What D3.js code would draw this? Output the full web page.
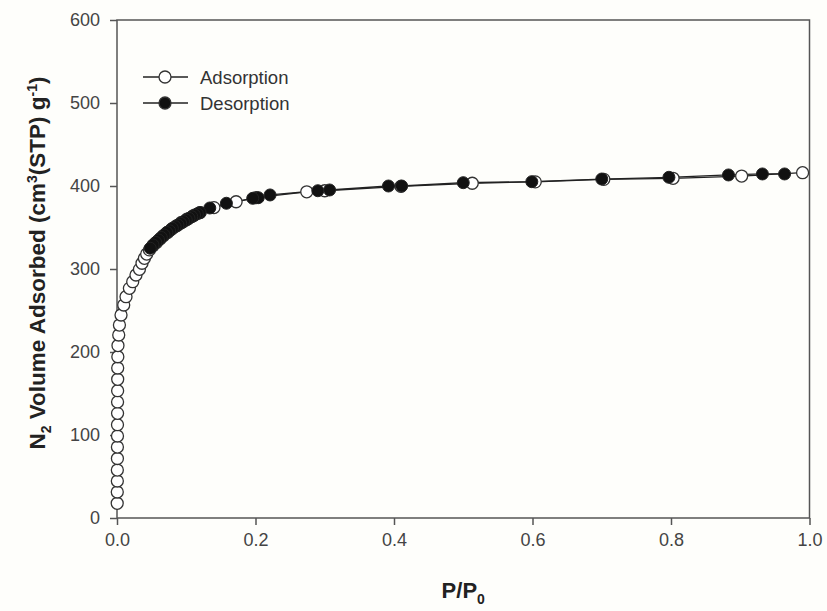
<!DOCTYPE html>
<html>
<head>
<meta charset="utf-8">
<script src="https://cdn.jsdelivr.net/npm/d3@7"></script>
<style>
  body { margin: 0; background: #fefefb; }
  svg { display: block; font-family: "Liberation Sans", Arial, sans-serif; }
</style>
</head>
<body>
<div id="chart"></div>
<script>
// 吸附分支 (P/P0, 体积)
var adsP = [0.0003, 0.0004, 0.0005, 0.0005, 0.0006, 0.0006, 0.0007, 0.0007, 0.0008, 0.0008,
            0.0009, 0.0010, 0.0010, 0.0012, 0.0014, 0.0025, 0.0035,
            0.0058, 0.0097, 0.013, 0.0179, 0.0227, 0.0274, 0.0324, 0.0361, 0.0396, 0.0429, 0.0468,
            0.052, 0.057, 0.062, 0.067, 0.073, 0.079, 0.086, 0.093, 0.101, 0.110, 0.120,
            0.140, 0.172, 0.201, 0.274, 0.300, 0.410, 0.513, 0.604, 0.703, 0.803, 0.902, 0.990];
var adsV = [17.7, 31.3, 44.6, 57.8, 71.7, 85.5, 98.8, 112.4, 126.1, 139.8,
            153.4, 167.1, 180.7, 194.3, 207.8, 220.5, 232.5,
            244.6, 256.6, 266.6, 276.7, 284.7, 292.8, 299.6, 306.9, 312.9, 318, 323,
            328, 332, 336, 340, 344, 348, 352, 356, 360, 364, 368,
            374, 381, 386, 393, 394.3, 399.5, 403.3, 405, 408, 409.3, 412, 416];
// 脱附分支
var desP = [0.964, 0.932, 0.883, 0.797, 0.700, 0.599, 0.500, 0.411, 0.392, 0.307, 0.290,
            0.221, 0.204, 0.196, 0.158, 0.134,
            0.120, 0.116, 0.112, 0.108, 0.104, 0.100, 0.096, 0.092, 0.088, 0.084, 0.080,
            0.076, 0.072, 0.068, 0.064, 0.060, 0.056, 0.052, 0.048];
var desV = [414.5, 414.5, 413.3, 410.5, 408.4, 405.2, 404, 400, 400, 395.2, 394.3,
            389.2, 385.9, 385.2, 379.2, 373.5,
            368, 366.5, 365, 363, 361, 359, 357, 355, 353, 351, 349,
            346, 344, 341, 338, 335, 332, 329, 325];
var xTicks = [0, 0.2, 0.4, 0.6, 0.8, 1.0];
var yTicks = [0, 100, 200, 300, 400, 500, 600];
var seriesNames = ["Adsorption", "Desorption"];

var W = 827, H = 611;
var margin = {top: 20, right: 17.5, bottom: 93, left: 117};
var width = W - margin.left - margin.right,
    height = H - margin.top - margin.bottom;

var svg = d3.select("#chart").append("svg")
    .attr("width", W)
    .attr("height", H);

var x = d3.scaleLinear().domain([0, 1]).range([0, width]);
var y = d3.scaleLinear().domain([0, 600]).range([height, 0]);

var g = svg.append("g")
    .attr("transform", "translate(" + margin.left + "," + margin.top + ")");

// 坐标轴
var xAxis = g.append("g")
    .attr("transform", "translate(0," + height + ")")
    .call(d3.axisBottom(x).tickValues(xTicks).tickSize(7).tickSizeOuter(0).tickPadding(8)
        .tickFormat(d3.format(".1f")));
var yAxis = g.append("g")
    .call(d3.axisLeft(y).tickValues(yTicks).tickSize(7).tickSizeOuter(0).tickPadding(10));

[xAxis, yAxis].forEach(function (a) {
    a.select(".domain").remove();
    a.selectAll("line").attr("stroke", "#555").attr("stroke-width", 1.5);
    a.selectAll("text")
        .style("font-size", "18px")
        .style("font-family", "Liberation Sans, Arial, sans-serif")
        .attr("fill", "#444");
});

// 边框
g.append("rect")
    .attr("width", width)
    .attr("height", height)
    .attr("fill", "none")
    .attr("stroke", "#555")
    .attr("stroke-width", 1.5);

var ads = adsP.map(function (p, i) { return [p, adsV[i]]; });
var des = desP.map(function (p, i) { return [p, desV[i]]; });

var line = d3.line()
    .x(function (d) { return x(d[0]); })
    .y(function (d) { return y(d[1]); });

g.append("path").datum(ads)
    .attr("d", line).attr("fill", "none")
    .attr("stroke", "#222").attr("stroke-width", 1.3);
g.append("path").datum(des)
    .attr("d", line).attr("fill", "none")
    .attr("stroke", "#222").attr("stroke-width", 1.3);

var r = 6;
g.selectAll(".ads").data(ads).enter().append("circle")
    .attr("class", "ads")
    .attr("cx", function (d) { return x(d[0]); })
    .attr("cy", function (d) { return y(d[1]); })
    .attr("r", r)
    .attr("fill", "#fff")
    .attr("stroke", "#333").attr("stroke-width", 1.3);

g.selectAll(".des").data(des).enter().append("circle")
    .attr("class", "des")
    .attr("cx", function (d) { return x(d[0]); })
    .attr("cy", function (d) { return y(d[1]); })
    .attr("r", r)
    .attr("fill", "#111")
    .attr("stroke", "#222").attr("stroke-width", 1);

// 图例
var legend = svg.append("g").attr("transform", "translate(143,77)");
var item = legend.selectAll(".item").data(seriesNames).enter().append("g")
    .attr("class", "item")
    .attr("transform", function (d, i) { return "translate(0," + i * 26 + ")"; });
item.append("line")
    .attr("x1", 0).attr("x2", 45)
    .attr("stroke", "#222").attr("stroke-width", 1.3);
item.append("circle")
    .attr("cx", 22).attr("r", r)
    .attr("fill", function (d, i) { return i === 0 ? "#fff" : "#111"; })
    .attr("stroke", "#333").attr("stroke-width", 1.3);
item.append("text")
    .attr("x", 57).attr("y", 6.5)
    .style("font-size", "18.5px")
    .attr("fill", "#333")
    .text(function (d) { return d; });

// x轴标题
var xt = svg.append("text")
    .attr("x", margin.left + width / 2)
    .attr("y", 598)
    .attr("text-anchor", "middle")
    .style("font-size", "22px")
    .style("font-weight", "bold")
    .attr("fill", "#222");
xt.append("tspan").text("P/P");
xt.append("tspan").attr("dy", 6).style("font-size", "14px").text("0");

// y轴标题
var yt = svg.append("text")
    .attr("transform", "translate(45," + 263 + ") rotate(-90)")
    .attr("text-anchor", "middle")
    .style("font-size", "22.5px")
    .style("font-weight", "bold")
    .attr("fill", "#222");
yt.append("tspan").text("N");
yt.append("tspan").attr("dy", 6).style("font-size", "14px").text("2");
yt.append("tspan").attr("dy", -6).text(" Volume Adsorbed (cm");
yt.append("tspan").attr("dy", -8).style("font-size", "14px").text("3");
yt.append("tspan").attr("dy", 8).text("(STP) g");
yt.append("tspan").attr("dy", -8).style("font-size", "14px").text("-1");
yt.append("tspan").attr("dy", 8).text(")");
</script>
</body>
</html>
